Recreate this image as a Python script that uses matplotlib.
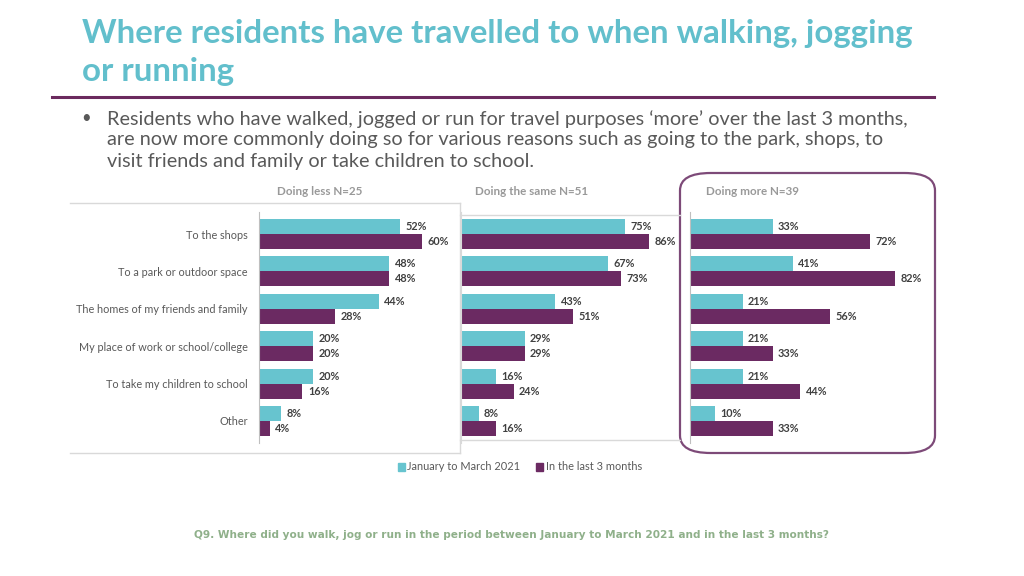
import numpy as np
import matplotlib.pyplot as plt
from matplotlib.lines import Line2D
from matplotlib.patches import FancyBboxPatch, Rectangle

plt.rcParams['font.family'] = ['Lato', 'DejaVu Sans']

#%% data
categories = ["To the shops", "To a park or outdoor space",
              "The homes of my friends and family",
              "My place of work or school/college",
              "To take my children to school", "Other"]
panel_titles = ["Doing less N=25", "Doing the same N=51", "Doing more N=39"]
series_names = ["January to March 2021", "In the last 3 months"]

less_jan = [52, 48, 44, 20, 20, 8]
less_last = [60, 48, 28, 20, 16, 4]
same_jan = [75, 67, 43, 29, 16, 8]
same_last = [86, 73, 51, 29, 24, 16]
more_jan = [33, 41, 21, 21, 21, 10]
more_last = [72, 82, 56, 33, 44, 33]

TEAL = '#67c4cf'
PURPLE = '#6b2a62'
GREY_TXT = '#595959'
LINE_GREY = '#d9d9d9'

W, H = 1024, 576
fig = plt.figure(figsize=(W / 100, H / 100), dpi=100)
fig.patch.set_facecolor('white')


def fx(x):
    return x / W


def fy(y):
    return 1 - y / H


def px_axes(x0, y0, x1, y1):
    return fig.add_axes([fx(x0), fy(y1), (x1 - x0) / W, (y1 - y0) / H])


def hline(x0, x1, y, color=LINE_GREY, lw=1):
    fig.add_artist(Line2D([fx(x0), fx(x1)], [fy(y), fy(y)], color=color, lw=lw))


def vline(x, y0, y1, color=LINE_GREY, lw=1):
    fig.add_artist(Line2D([fx(x), fx(x)], [fy(y0), fy(y1)], color=color, lw=lw))


#%% header
fig.text(fx(82), fy(34), "Where residents have travelled to when walking, jogging",
         color='#62bfcc', fontsize=23.8, fontweight='bold', va='center', ha='left')
fig.text(fx(82), fy(71), "or running",
         color='#62bfcc', fontsize=23.8, fontweight='bold', va='center', ha='left')
hline(52, 934, 97, color='#6b2a5e', lw=2.2)

bullet_lines = ["Residents who have walked, jogged or run for travel purposes \u2018more\u2019 over the last 3 months,",
                "are now more commonly doing so for various reasons such as going to the park, shops, to",
                "visit friends and family or take children to school."]
fig.text(fx(81), fy(118), "\u2022", color=GREY_TXT, fontsize=12, va='center')
for i, t in enumerate(bullet_lines):
    fig.text(fx(107), fy(119 + 21 * i), t, color=GREY_TXT, fontsize=14.3,
             va='center', ha='left')

#%% chart frame lines (background picture edges)
hline(70, 460, 203)
vline(460, 203, 453)
hline(70, 460, 453)
hline(460, 680, 215)
hline(460, 680, 440)

# highlight box around third panel
box = FancyBboxPatch((fx(680), fy(453)), fx(935) - fx(680), fy(173) - fy(453),
                     boxstyle="round,pad=0,rounding_size=0.03",
                     transform=fig.transFigure, fill=False,
                     edgecolor='#7d4a78', lw=1.6, mutation_aspect=H / W * 1.8)
fig.add_artist(box)

#%% panels
panels = [
    (259, 460, 74, less_jan, less_last, 320),
    (461, 680, 100, same_jan, same_last, 532),
    (690, 925, 94, more_jan, more_last, 753),
]
y = np.arange(len(categories))
bh = 0.4
for k, (x0, x1, xmax, jan, last, tx) in enumerate(panels):
    ax = px_axes(x0, 211.6, x1, 443.4)
    ax.barh(y - bh / 2, jan, height=bh, color=TEAL)
    ax.barh(y + bh / 2, last, height=bh, color=PURPLE)
    ax.set_xlim(0, xmax)
    ax.set_ylim(5.6, -0.6)
    for s in ['top', 'right', 'bottom']:
        ax.spines[s].set_visible(False)
    ax.spines['left'].set_color('#bfbfbf' if k != 1 else LINE_GREY)
    ax.spines['left'].set_linewidth(0.8)
    ax.set_xticks([])
    ax.patch.set_alpha(0)
    if k == 0:
        ax.set_yticks(y)
        ax.set_yticklabels(categories, fontsize=7.8, color=GREY_TXT)
        ax.tick_params(axis='y', length=0, pad=8)
    else:
        ax.set_yticks([])
    for yi, v in zip(y - bh / 2, jan):
        ax.annotate(f"{v}%", (v, yi), xytext=(4, 0), textcoords='offset points',
                    va='center', ha='left', fontsize=7.8, fontweight='bold', color='#404040')
    for yi, v in zip(y + bh / 2, last):
        ax.annotate(f"{v}%", (v, yi), xytext=(4, 0), textcoords='offset points',
                    va='center', ha='left', fontsize=7.8, fontweight='bold', color='#404040')
    fig.text(fx(tx), fy(192), panel_titles[k], color='#999999', fontsize=8.4,
             fontweight='bold', ha='center', va='center')

#%% legend
fig.add_artist(Rectangle((fx(398), fy(471)), 7 / W, 8 / H, color=TEAL, transform=fig.transFigure))
fig.text(fx(407), fy(467), series_names[0], fontsize=7.9, color=GREY_TXT, va='center')
fig.add_artist(Rectangle((fx(536), fy(471)), 7 / W, 8 / H, color=PURPLE, transform=fig.transFigure))
fig.text(fx(546), fy(467), series_names[1], fontsize=7.9, color=GREY_TXT, va='center')

#%% footnote
fig.text(fx(511), fy(535),
         "Q9. Where did you walk, jog or run in the period between January to March 2021 and in the last 3 months?",
         color='#8fb08a', fontsize=7.6, fontweight='bold', ha='center', va='center',
         family='DejaVu Sans')

fig.savefig('out.png', dpi=100)
